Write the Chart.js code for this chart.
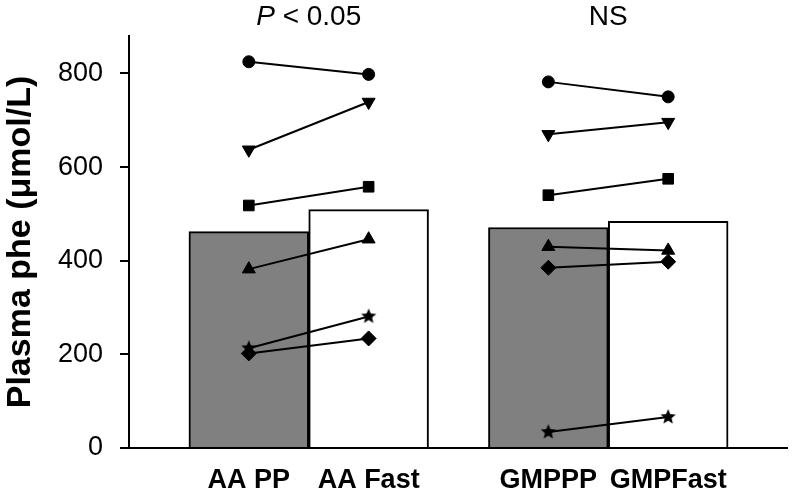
<!DOCTYPE html>
<html>
<head>
<meta charset="utf-8">
<script src="https://cdn.jsdelivr.net/npm/chart.js@4.4.0/dist/chart.umd.min.js"></script>
<style>
html, body { margin: 0; padding: 0; background: #fff; }
#caja { width: 797px; height: 496px; }
</style>
</head>
<body>
<div id="caja"><canvas id="grafico" width="797" height="496"></canvas></div>
<script>
// datos (umol/L)
const grupos = ['AA PP', 'AA Fast', 'GMPPP', 'GMPFast'];
const media = [462, 509, 471, 484];
const circulo = [825, 798, 782, 750];
const trianguloAbajo = [637, 739, 670, 696];
const cuadrado = [518, 558, 540, 575];
const trianguloArriba = [382, 446, 430, 422];
const estrella = [213, 281, 34, 66];
const rombo = [202, 234, 385, 398];
const pruebas = ['P < 0.05', 'NS'];
const yTicks = [0, 200, 400, 600, 800];

const fuente = '"Liberation Sans", Arial, sans-serif';
Chart.defaults.font.family = fuente;
Chart.defaults.color = '#000';

// posicion de cada grupo en el eje x (hueco entre AA y GMP)
const posX = [1, 2, 3.5, 4.5];

function hacerEstrella(r) {
    const c = document.createElement('canvas');
    const t = Math.ceil(r * 2 + 2);
    c.width = t;
    c.height = t;
    const g = c.getContext('2d');
    g.fillStyle = '#000';
    g.beginPath();
    for (let i = 0; i < 10; i++) {
        const rr = i % 2 === 0 ? r : r * 0.45;
        const a = -Math.PI / 2 + i * Math.PI / 5;
        g.lineTo(t / 2 + rr * Math.cos(a), t / 2 + rr * Math.sin(a));
    }
    g.closePath();
    g.fill();
    return c;
}

const marcas = [
    { valores: circulo, estilo: 'circle', radio: 6, giro: 0 },
    { valores: trianguloAbajo, estilo: 'triangle', radio: 7.5, giro: 180 },
    { valores: cuadrado, estilo: 'rect', radio: 7.5, giro: 0 },
    { valores: trianguloArriba, estilo: 'triangle', radio: 7.5, giro: 0 },
    { valores: estrella, estilo: hacerEstrella(8), radio: 8, giro: 0 },
    { valores: rombo, estilo: 'rectRot', radio: 7.5, giro: 0 }
];

let datasets = [];
marcas.forEach(function (m) {
    [[0, 1], [2, 3]].forEach(function (par) {
        datasets.push({
            type: 'line',
            data: par.map(i => ({ x: posX[i], y: m.valores[i] })),
            borderColor: '#000',
            borderWidth: 2,
            pointStyle: m.estilo,
            pointRadius: m.radio,
            pointRotation: m.giro,
            pointBackgroundColor: '#000',
            pointBorderColor: '#000',
            pointBorderWidth: 1,
            fill: false,
            order: 1
        });
    });
});

datasets.push({
    type: 'bar',
    data: [0, 2].map(i => ({ x: posX[i], y: media[i] })),
    backgroundColor: '#808080',
    borderColor: '#000',
    borderWidth: 2,
    grouped: false,
    barPercentage: 1,
    categoryPercentage: 1,
    order: 2
});
datasets.push({
    type: 'bar',
    data: [1, 3].map(i => ({ x: posX[i], y: media[i] })),
    backgroundColor: '#fff',
    borderColor: '#000',
    borderWidth: 2,
    grouped: false,
    barPercentage: 1,
    categoryPercentage: 1,
    order: 2
});

// textos de significancia sobre cada par
const textoPrueba = {
    id: 'textoPrueba',
    afterDraw(chart) {
        const ctx = chart.ctx;
        const x = chart.scales.x;
        ctx.save();
        ctx.fillStyle = '#000';
        ctx.textBaseline = 'alphabetic';
        ctx.textAlign = 'left';
        pruebas.forEach(function (txt, k) {
            const cx = x.getPixelForValue((posX[k * 2] + posX[k * 2 + 1]) / 2);
            let parte1 = '', parte2 = txt;
            if (txt.indexOf('P ') === 0) {
                parte1 = 'P';
                parte2 = txt.substring(1);
            }
            ctx.font = 'italic 28px ' + fuente;
            const w1 = ctx.measureText(parte1).width;
            ctx.font = '28px ' + fuente;
            const w2 = ctx.measureText(parte2).width;
            let px = cx - (w1 + w2) / 2;
            ctx.font = 'italic 28px ' + fuente;
            ctx.fillText(parte1, px, 25);
            ctx.font = '28px ' + fuente;
            ctx.fillText(parte2, px + w1, 25);
        });
        ctx.restore();
    }
};

new Chart(document.getElementById('grafico').getContext('2d'), {
    type: 'bar',
    data: { datasets: datasets },
    options: {
        responsive: false,
        animation: false,
        events: [],
        layout: { padding: { top: 36, right: 4, left: 0, bottom: 0 } },
        plugins: {
            legend: { display: false },
            tooltip: { enabled: false }
        },
        scales: {
            x: {
                type: 'linear',
                min: 0,
                max: 5.5,
                offset: false,
                afterBuildTicks: function (axis) {
                    axis.ticks = posX.map(v => ({ value: v }));
                },
                afterFit: function (axis) {
                    axis.height = 48;
                    axis.paddingLeft = 0;
                    axis.paddingRight = 0;
                },
                ticks: {
                    autoSkip: false,
                    maxRotation: 0,
                    padding: 16,
                    font: { size: 27, weight: 'bold' },
                    callback: function (v) {
                        const i = posX.indexOf(v);
                        return i >= 0 ? grupos[i] : '';
                    }
                },
                grid: { display: true, offset: false, drawOnChartArea: false, drawTicks: false, color: '#000', lineWidth: 0 },
                border: { display: true, color: '#000', width: 2 }
            },
            y: {
                min: 0,
                max: 880,
                afterBuildTicks: function (axis) {
                    axis.ticks = yTicks.map(v => ({ value: v }));
                },
                afterFit: function (axis) {
                    axis.width = 129;
                    axis.paddingLeft = 0;
                    axis.paddingRight = 0;
                },
                ticks: {
                    padding: 17,
                    font: { size: 27 }
                },
                grid: { drawOnChartArea: false, drawTicks: true, tickLength: 9, color: '#000', lineWidth: 2 },
                border: { display: true, color: '#000', width: 2 },
                title: {
                    display: true,
                    text: 'Plasma phe (μmol/L)',
                    padding: 0,
                    font: { size: 34, weight: 'bold' }
                }
            }
        }
    },
    plugins: [textoPrueba]
});
</script>
</body>
</html>
